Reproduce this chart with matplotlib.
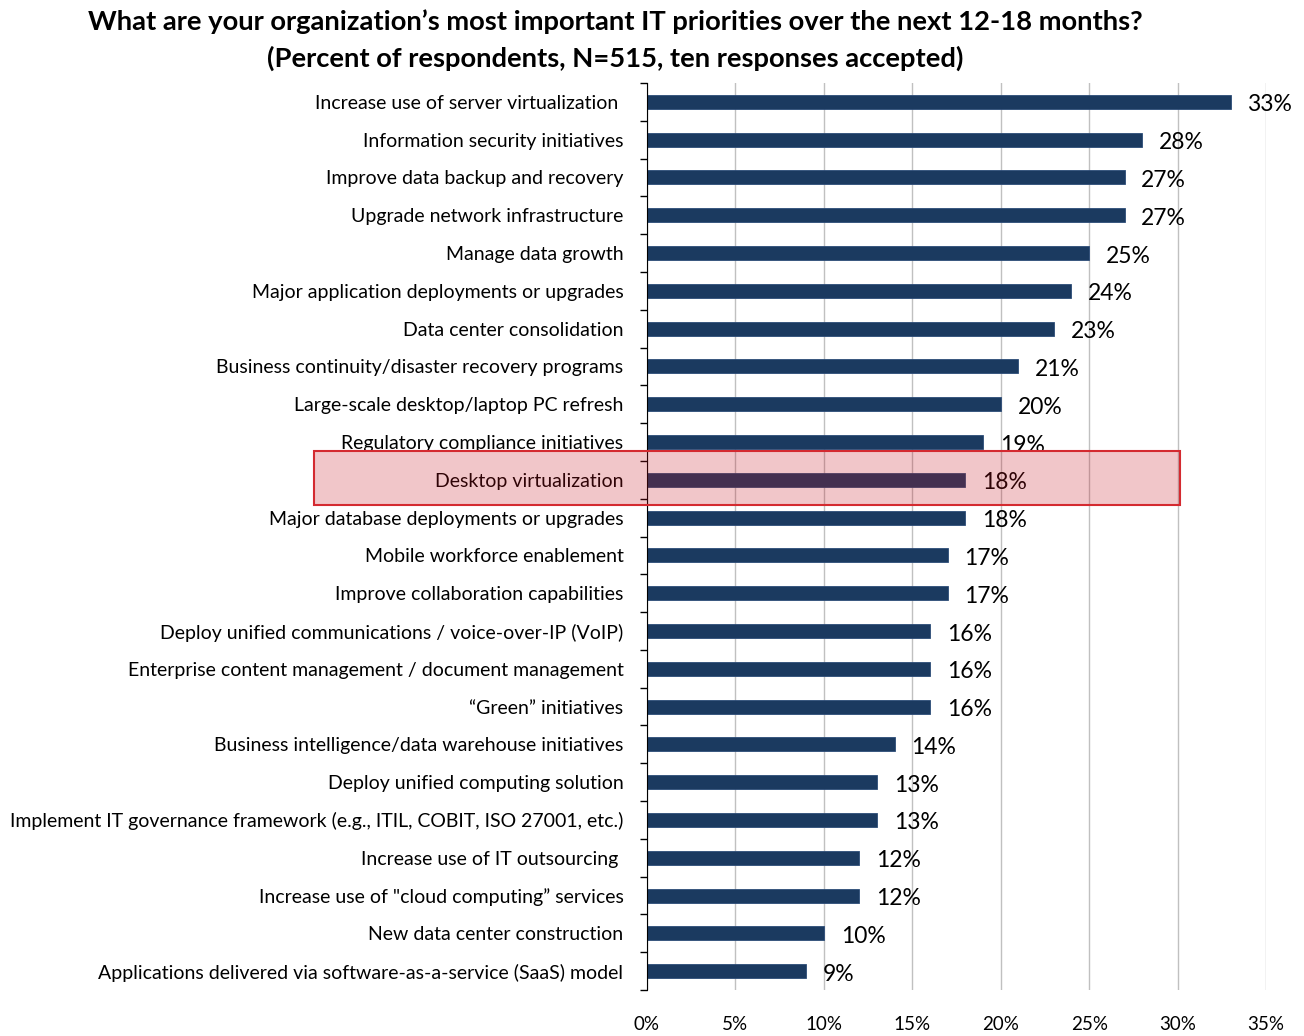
import matplotlib.pyplot as plt
from matplotlib.patches import Rectangle
import numpy as np

plt.rcParams['font.family'] = ['Lato', 'DejaVu Sans']

# Data (top to bottom as shown)
priorities = [
    "Increase use of server virtualization ",
    "Information security initiatives",
    "Improve data backup and recovery",
    "Upgrade network infrastructure",
    "Manage data growth",
    "Major application deployments or upgrades",
    "Data center consolidation",
    "Business continuity/disaster recovery programs",
    "Large-scale desktop/laptop PC refresh",
    "Regulatory compliance initiatives",
    "Desktop virtualization",
    "Major database deployments or upgrades",
    "Mobile workforce enablement",
    "Improve collaboration capabilities",
    "Deploy unified communications / voice-over-IP (VoIP)",
    "Enterprise content management / document management",
    "\u201cGreen\u201d initiatives",
    "Business intelligence/data warehouse initiatives",
    "Deploy unified computing solution",
    "Implement IT governance framework (e.g., ITIL, COBIT, ISO 27001, etc.)",
    "Increase use of IT outsourcing ",
    "Increase use of \"cloud computing\u201d services",
    "New data center construction",
    "Applications delivered via software-as-a-service (SaaS) model",
]
percents = [33, 28, 27, 27, 25, 24, 23, 21, 20, 19, 18, 18, 17, 17,
            16, 16, 16, 14, 13, 13, 12, 12, 10, 9]
x_ticks = [0, 5, 10, 15, 20, 25, 30, 35]

fig = plt.figure(figsize=(13.04, 10.36), dpi=100)
ax = fig.add_axes([647/1304, 1-990/1036, (1266-647)/1304, (990-83)/1036])

y = np.arange(len(priorities))
ax.barh(y, percents, height=0.37, color='#1b3a60', edgecolor='#2c4c78',
        linewidth=0.6, zorder=3)

for yi, v in zip(y, percents):
    ax.text(v + 0.95, yi + 0.08, f"{v}%", va='center', ha='left',
            fontsize=16.5, color='black', zorder=4)

ax.set_ylim(len(priorities) - 0.5, -0.5)
ax.set_xlim(0, 35)
ax.set_yticks(y)
ax.set_yticklabels(priorities, fontsize=14)
ax.set_yticks(np.arange(-0.5, len(priorities)), minor=True)
ax.tick_params(axis='y', which='major', length=0, pad=17)
ax.tick_params(axis='y', which='minor', length=5, width=1, direction='out')

ax.set_xticks(x_ticks)
ax.set_xticklabels([f"{t}%" for t in x_ticks], fontsize=13.5)
ax.tick_params(axis='x', length=0, pad=19)
ax.xaxis.grid(True, color='#c0c0c0', linewidth=1, zorder=0)
ax.set_axisbelow(True)

for side in ['top', 'right', 'bottom']:
    ax.spines[side].set_visible(False)
ax.spines['left'].set_color('black')
ax.spines['left'].set_zorder(5)

fig.text(615/1304, 1-22/1036,
         "What are your organization\u2019s most important IT priorities over the next 12-18 months?",
         ha='center', va='center', fontsize=19.7, fontweight='bold')
fig.text(615/1304, 1-58/1036,
         "(Percent of respondents, N=515, ten responses accepted)",
         ha='center', va='center', fontsize=19.7, fontweight='bold')

# Highlight box around "Desktop virtualization"
fig.patches.append(Rectangle((314/1304, 1-505/1036), (1180-314)/1304, 54/1036,
                             transform=fig.transFigure, facecolor='#c8141e',
                             alpha=0.24, edgecolor='none', zorder=10))
fig.patches.append(Rectangle((314/1304, 1-505/1036), (1180-314)/1304, 54/1036,
                             transform=fig.transFigure, facecolor='none',
                             edgecolor='#d42a30', linewidth=1.5, zorder=11))

fig.savefig("out.png", dpi=100)
